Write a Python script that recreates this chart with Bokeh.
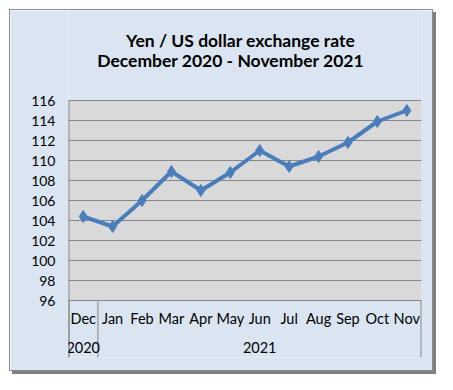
from bokeh.plotting import figure
from bokeh.models import FactorRange, Range1d, FixedTicker, Label, CategoricalAxis, ColumnDataSource
from bokeh.embed import file_html
from bokeh.resources import INLINE

months = ["Dec", "Jan", "Feb", "Mar", "Apr", "May", "Jun", "Jul", "Aug", "Sep", "Oct", "Nov"]
years = ["2020"] + ["2021"] * 11
rates = [104.4, 103.4, 106.0, 108.9, 107.0, 108.8, 111.0, 109.4, 110.4, 111.8, 113.9, 115.0]
y_ticks = [96, 98, 100, 102, 104, 106, 108, 110, 112, 114, 116]
title_lines = ["Yen / US dollar exchange rate", "December 2020  - November 2021"]
year_bounds = [0, 1, 12]

BLUE_BG = "#dbe5f1"
GRID = "#868686"
FONT = "Lato"

factors = list(zip(years, months))
xr = FactorRange(*factors, factor_padding=0, group_padding=0, subgroup_padding=0, range_padding=0)
ymin, ymax = y_ticks[0], y_ticks[-1]
ybottom = ymin - 5.7

p = figure(width=424, height=362, x_range=xr, y_range=Range1d(ybottom, ymax + 9.0),
           output_backend="svg", toolbar_location=None, x_axis_location=None,
           min_border_left=58, min_border_right=13, min_border_top=0, min_border_bottom=15)
p.margin = (9, 0, 0, 9)
p.styles = {"border": "1px solid #8c8c8c", "box-shadow": "3px 3px 0px #7f7f7f"}

p.background_fill_color = BLUE_BG
p.border_fill_color = BLUE_BG
p.outline_line_color = None

# grey plot area
p.quad(left=[0], right=[len(months)], bottom=[ymin], top=[ymax], fill_color="#d9d9d9",
       line_color=None, level="underlay")

src = ColumnDataSource(dict(x=factors, y=rates))
p.line("x", "y", source=src, line_color="#4a7ebb", line_width=4)
p.scatter("x", "y", source=src, marker="diamond", size=12, fill_color="#4a7ebb", line_color="#4a7ebb")

# y axis
p.yaxis.ticker = FixedTicker(ticks=y_ticks)
p.yaxis.axis_line_color = None
p.yaxis.major_tick_line_color = None
p.yaxis.major_tick_out = 0
p.yaxis.minor_tick_line_color = None
p.yaxis.major_label_text_font = FONT
p.yaxis.major_label_text_font_size = "14px"
p.yaxis.major_label_text_color = "#000000"
p.yaxis.major_label_standoff = 13

p.xgrid.grid_line_color = None
p.ygrid.grid_line_color = GRID
p.ygrid.grid_line_width = 1

# month axis
xa = CategoricalAxis(fixed_location=ymin)
xa.axis_line_color = GRID
xa.major_tick_line_color = None
xa.major_tick_out = 0
xa.major_tick_in = 0
xa.major_label_standoff = 9
xa.major_label_text_font = FONT
xa.major_label_text_font_size = "14.5px"
xa.major_label_text_color = "#000000"
xa.group_text_color = None
xa.separator_line_color = None
p.add_layout(xa, "below")

# year axis
ya = CategoricalAxis(fixed_location=ymin - 3.8)
ya.axis_line_color = None
ya.major_tick_line_color = None
ya.major_tick_out = 0
ya.major_tick_in = 0
ya.major_label_standoff = 3
ya.major_label_text_font = FONT
ya.major_label_text_font_size = "14.5px"
ya.major_label_text_color = None
ya.group_text_font = FONT
ya.group_text_font_size = "14.5px"
ya.group_text_font_style = "normal"
ya.group_text_color = "#000000"
ya.separator_line_color = None
p.add_layout(ya, "below")

# left axis line / year separators
edge_x = [year_bounds[0], year_bounds[2]]
p.segment(x0=edge_x, y0=[ybottom] * 2, x1=edge_x, y1=[ymin, ymin], line_color=GRID, line_width=2)
p.segment(x0=[year_bounds[0]], y0=[ybottom], x1=[year_bounds[0]], y1=[ymax], line_color=GRID, line_width=2)
p.segment(x0=[year_bounds[1]], y0=[ybottom], x1=[year_bounds[1]], y1=[ymin], line_color=GRID, line_width=1)

title_x = [5.85, 5.59]
title_y = [122.0, 120.0]
for t, tx, ty in zip(title_lines, title_x, title_y):
    p.add_layout(Label(x=tx, y=ty, text=t,
                       text_align="center", text_baseline="middle", text_font=FONT,
                       text_font_style="bold", text_font_size="17.5px", text_color="#000000"))

out = file_html(p, INLINE)
open("out.html", "w").write(out)
